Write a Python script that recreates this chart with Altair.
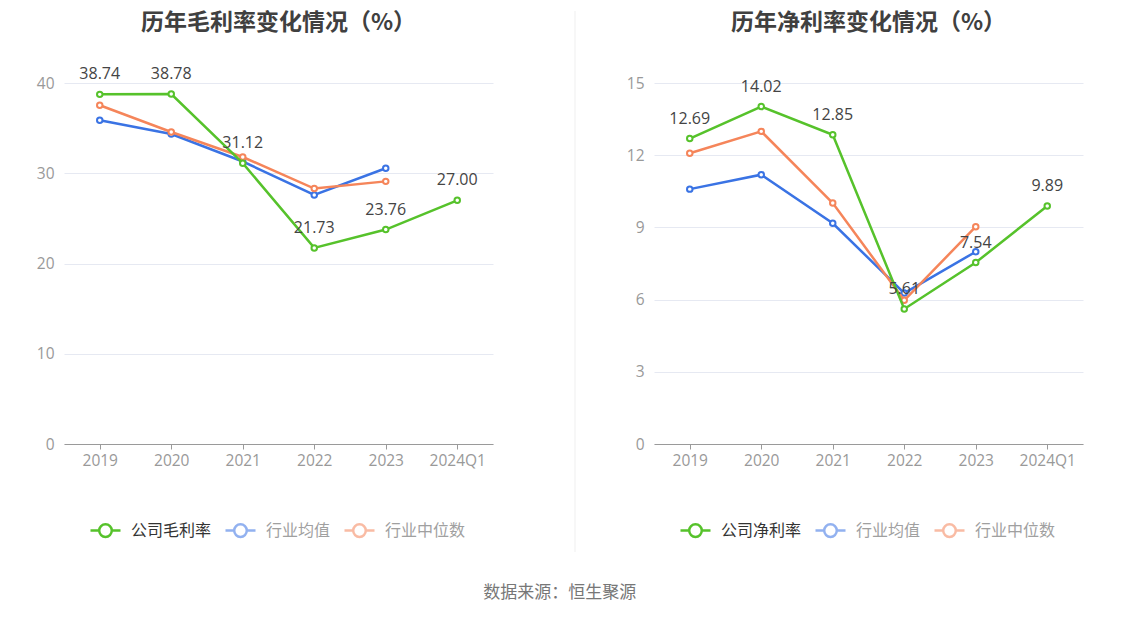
import altair as alt
import pandas as pd

years = ["2019", "2020", "2021", "2022", "2023", "2024Q1"]
years5 = years[:5]

gross_company = [38.74, 38.78, 31.12, 21.73, 23.76, 27.00]
gross_avg = [35.87, 34.35, 31.3, 27.6, 30.55]
gross_median = [37.53, 34.57, 31.8, 28.3, 29.1]

net_company = [12.69, 14.02, 12.85, 5.61, 7.54, 9.89]
net_avg = [10.59, 11.19, 9.17, 6.27, 7.99]
net_median = [12.08, 12.99, 10.01, 5.97, 9.03]

GREEN = "#56c22b"
BLUE = "#3a73e4"
ORANGE = "#f5855a"
FONT = "Noto Sans CJK SC"
NUMFONT = "Open Sans, Noto Sans CJK SC"

SYMBOL = ("M -1 0 L -0.42 0 M 0.42 0 L 1 0 "
          "M -0.42 0 A 0.42 0.42 0 1 1 0.42 0 A 0.42 0.42 0 1 1 -0.42 0 Z")


def panel(title, company_name, company, avg, median, ymax, ystep, title_offset):
    names = [company_name, "行业均值", "行业中位数"]
    df_c = pd.DataFrame({"year": years, "value": company, "series": company_name})
    df_a = pd.DataFrame({"year": years5, "value": avg, "series": "行业均值"})
    df_m = pd.DataFrame({"year": years5, "value": median, "series": "行业中位数"})

    x = alt.X("year:N", sort=years, title=None,
              scale=alt.Scale(type="point", padding=0.5),
              axis=alt.Axis(labelAngle=0, labelColor="#999999", labelFontSize=15.5,
                            labelFont=NUMFONT, domainColor="#9a9a9a", tickColor="#9a9a9a",
                            tickSize=5, labelPadding=4, grid=False))
    y = alt.Y("value:Q", title=None,
              scale=alt.Scale(domain=[0, ymax], nice=False),
              axis=alt.Axis(values=list(range(0, ymax + 1, ystep)), domain=False, ticks=False,
                            labelColor="#999999", labelFontSize=15.5, labelFont=NUMFONT,
                            labelPadding=10, gridColor="#e6e9f2"))
    legend = alt.Legend(
        orient="none", legendX=25, legendY=431, direction="horizontal", title=None,
        symbolType=SYMBOL, symbolSize=900, symbolStrokeWidth=2.5,
        labelFontSize=16, labelFont=FONT, labelOffset=9, columnPadding=8,
        labelColor={"expr": "datum.index == 0 ? '#333333' : '#a0a0a0'"},
        symbolOpacity={"expr": "datum.index == 0 ? 1 : 0.55"},
    )
    color = alt.Color("series:N", scale=alt.Scale(domain=names, range=[GREEN, BLUE, ORANGE]),
                      legend=legend)
    pt = alt.OverlayMarkDef(filled=False, fill="white", size=30, strokeWidth=2)

    def line(df):
        return alt.Chart(df).mark_line(strokeWidth=2.5, point=pt).encode(x=x, y=y, color=color)

    labels = alt.Chart(df_c).mark_text(fontSize=16, font=NUMFONT, color="#444444",
                                       baseline="middle", dy=-20).encode(
        x=x, y=y, text=alt.Text("value:Q", format=".2f"))

    return alt.layer(line(df_a), line(df_m), line(df_c), labels).properties(
        width=429, height=361,
        title=alt.TitleParams(title, fontSize=23, fontWeight="bold", font=FONT,
                              color="#404040", anchor="middle", offset=title_offset),
    )


left = panel("历年毛利率变化情况（%）", "公司毛利率", gross_company, gross_avg, gross_median, 40, 10, 31)
right = panel("历年净利率变化情况（%）", "公司净利率", net_company, net_avg, net_median, 15, 3, 41)

divider = alt.Chart(pd.DataFrame({"a": [0]})).mark_rule(color="#efefef", strokeWidth=1).encode(
    x=alt.value(32), y=alt.value(-72), y2=alt.value(469)).properties(width=33, height=361)

chart = alt.hconcat(left, divider, right, spacing=50).resolve_scale(color="independent").properties(
    padding={"left": 28, "top": 2, "right": 5, "bottom": 5},
    title=alt.TitleParams("数据来源：恒生聚源", orient="bottom", anchor="middle", fontSize=17,
                          font=FONT, color="#777777", fontWeight="normal", offset=32),
).configure_view(stroke=None)

chart.save("out.html", embed_options={"renderer": "svg", "actions": False})
